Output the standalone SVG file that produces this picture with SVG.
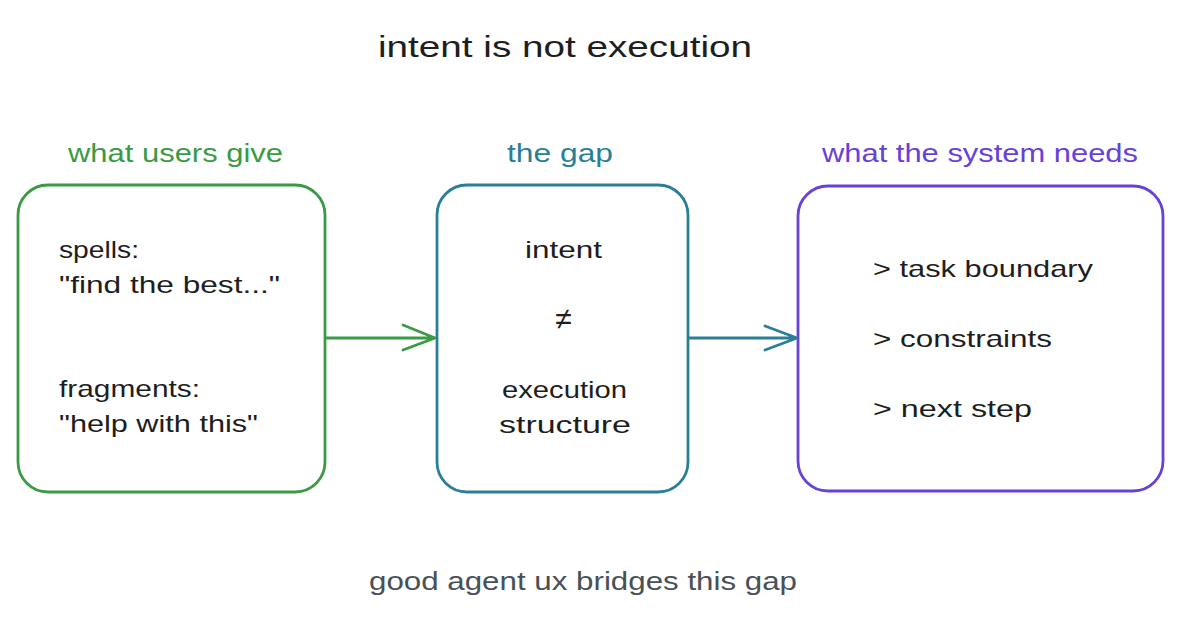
<svg xmlns="http://www.w3.org/2000/svg" width="1200" height="637" viewBox="0 0 1200 637">
<style>
.t{font-family:"Liberation Sans","Noto Sans",sans-serif;fill:#1e1e1e}
.box{fill:#ffffff;stroke-width:2.8;stroke-linecap:round;stroke-linejoin:round}
.conn{fill:none;stroke-width:2.8;stroke-linecap:round;stroke-linejoin:round}
.lbl{font-size:25px}
.body{font-size:24px}
</style>
<rect width="1200" height="637" fill="#ffffff"/>
<g id="title">
<text class="t" x="565" y="57" font-size="30" text-anchor="middle" textLength="374" lengthAdjust="spacingAndGlyphs">intent is not execution</text>
</g>
<g id="node-users">
<text class="t lbl" x="175.5" y="162" text-anchor="middle" style="fill:#3a9a46" textLength="215" lengthAdjust="spacingAndGlyphs">what users give</text>
<rect class="box" x="18" y="185" width="307" height="307" rx="30" stroke="#3a9a46"/>
<text class="t body" x="59" y="258" textLength="80" lengthAdjust="spacingAndGlyphs">spells:</text>
<text class="t body" x="59" y="293" textLength="221" lengthAdjust="spacingAndGlyphs">"find the best..."</text>
<text class="t body" x="59" y="397" textLength="141" lengthAdjust="spacingAndGlyphs">fragments:</text>
<text class="t body" x="59" y="432" textLength="199" lengthAdjust="spacingAndGlyphs">"help with this"</text>
</g>
<g id="node-gap">
<text class="t lbl" x="560" y="162" text-anchor="middle" style="fill:#2a7f96" textLength="106" lengthAdjust="spacingAndGlyphs">the gap</text>
<rect class="box" x="437" y="185" width="251" height="307" rx="30" stroke="#2a7f96"/>
<text class="t body" x="563.5" y="258" text-anchor="middle" textLength="77" lengthAdjust="spacingAndGlyphs">intent</text>
<text class="t" x="563.5" y="329" font-size="30" text-anchor="middle">≠</text>
<text class="t body" x="564.5" y="398" text-anchor="middle" textLength="125" lengthAdjust="spacingAndGlyphs">execution</text>
<text class="t body" x="565" y="433" text-anchor="middle" textLength="132" lengthAdjust="spacingAndGlyphs">structure</text>
</g>
<g id="node-system">
<text class="t lbl" x="980" y="162" text-anchor="middle" style="fill:#6741d9" textLength="316" lengthAdjust="spacingAndGlyphs">what the system needs</text>
<rect class="box" x="798" y="186" width="365" height="305" rx="30" stroke="#6741d9"/>
<text class="t body" x="873" y="277" textLength="220" lengthAdjust="spacingAndGlyphs">&gt; task boundary</text>
<text class="t body" x="873" y="347" textLength="179" lengthAdjust="spacingAndGlyphs">&gt; constraints</text>
<text class="t body" x="873" y="417" textLength="159" lengthAdjust="spacingAndGlyphs">&gt; next step</text>
</g>
<g id="connectors">
<path class="conn" stroke="#3a9a46" d="M326 338 L435 338 M403 325 L435 338 L403 350"/>
<path class="conn" stroke="#2a7f96" d="M689 338 L797 338 M765 326 L797 338 L765 350"/>
</g>
<g id="footer">
<text class="t" x="583" y="590" font-size="26" text-anchor="middle" style="fill:#495057" textLength="428" lengthAdjust="spacingAndGlyphs">good agent ux bridges this gap</text>
</g>
</svg>
